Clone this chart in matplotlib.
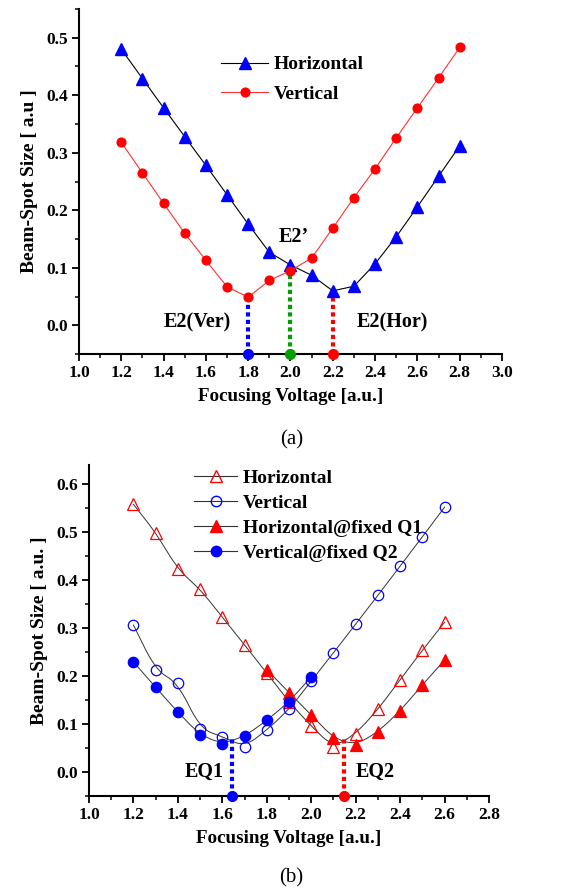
import numpy as np
import matplotlib
matplotlib.use("Agg")
import matplotlib.pyplot as plt
from matplotlib.ticker import MultipleLocator

# ---------------- data: panel (a) ----------------
volt_a = [1.2, 1.3, 1.4, 1.5, 1.6, 1.7, 1.8, 1.9, 2.0, 2.1, 2.2, 2.3, 2.4, 2.5, 2.6, 2.7, 2.8]
hor_a = [0.480, 0.429, 0.378, 0.328, 0.278, 0.227, 0.176, 0.127, 0.105, 0.087, 0.060, 0.068, 0.107, 0.154, 0.206, 0.259, 0.312]
ver_a = [0.318, 0.265, 0.212, 0.160, 0.113, 0.067, 0.049, 0.078, 0.095, 0.117, 0.169, 0.222, 0.272, 0.326, 0.378, 0.430, 0.483]
marks_a_x = [1.8, 2.0, 2.2]
marks_a_top = [0.049, 0.100, 0.060]
marks_a_col = ["#0000ff", "#00a000", "#ff0000"]

# ---------------- data: panel (b) ----------------
volt_b = [1.2, 1.3, 1.4, 1.5, 1.6, 1.7, 1.8, 1.9, 2.0, 2.1, 2.2, 2.3, 2.4, 2.5, 2.6]
hor_b = [0.558, 0.499, 0.422, 0.381, 0.322, 0.265, 0.205, 0.146, 0.095, 0.051, 0.079, 0.130, 0.192, 0.253, 0.312]
ver_b = [0.306, 0.212, 0.185, 0.090, 0.073, 0.052, 0.087, 0.130, 0.189, 0.248, 0.308, 0.368, 0.429, 0.490, 0.552]
volt_hq1 = [1.8, 1.9, 2.0, 2.1, 2.2, 2.3, 2.4, 2.5, 2.6]
hor_q1 = [0.213, 0.165, 0.119, 0.070, 0.056, 0.083, 0.127, 0.181, 0.233]
volt_vq2 = [1.2, 1.3, 1.4, 1.5, 1.6, 1.7, 1.8, 1.9, 2.0]
ver_q2 = [0.229, 0.176, 0.124, 0.077, 0.058, 0.074, 0.107, 0.146, 0.198]
marks_b_x = [1.645, 2.148]
marks_b_top = [0.068, 0.068]
marks_b_col = ["#0000ff", "#ff0000"]

plt.rcParams['font.family'] = ['Liberation Serif', 'DejaVu Serif']
plt.rcParams['font.weight'] = 'bold'
plt.rcParams['mathtext.default'] = 'regular'

def chaikin(x, y, n=4):
    pts = np.column_stack([x, y]).astype(float)
    for _ in range(n):
        q = 0.75 * pts[:-1] + 0.25 * pts[1:]
        r = 0.25 * pts[:-1] + 0.75 * pts[1:]
        new = np.empty((2 * len(q), 2))
        new[0::2] = q
        new[1::2] = r
        pts = np.vstack([pts[:1], new, pts[-1:]])
    return pts[:, 0], pts[:, 1]

def style_axes(ax, xlim, ylim, xmaj, ymaj):
    ax.set_xlim(*xlim)
    ax.set_ylim(*ylim)
    ax.spines['top'].set_visible(False)
    ax.spines['right'].set_visible(False)
    for s in ['left', 'bottom']:
        ax.spines[s].set_linewidth(1.5)
    ax.xaxis.set_major_locator(MultipleLocator(xmaj))
    ax.xaxis.set_minor_locator(MultipleLocator(xmaj / 2))
    ax.yaxis.set_major_locator(MultipleLocator(ymaj))
    ax.yaxis.set_minor_locator(MultipleLocator(ymaj / 2))
    ax.tick_params(which='major', direction='out', length=5, width=1.3, labelsize=12.5, pad=3)
    ax.tick_params(which='minor', direction='out', length=3, width=1.1)
    ax.xaxis.set_major_formatter(matplotlib.ticker.FormatStrFormatter('%.1f'))
    ax.yaxis.set_major_formatter(matplotlib.ticker.FormatStrFormatter('%.1f'))
    for lab in ax.get_xticklabels() + ax.get_yticklabels():
        lab.set_fontweight('bold')

fig = plt.figure(figsize=(5.79, 8.92), dpi=100)

# ---------------- panel (a) ----------------
ax1 = fig.add_axes([0.1364, 0.603, 0.7306, 0.387])
style_axes(ax1, (1.0, 3.0), (-0.05, 0.55), 0.2, 0.1)
ax1.plot(volt_a, hor_a, color='black', lw=0.8, marker='^', ms=8, mfc='#0000ff', mec='#0000ff',
         label='Horizontal', zorder=3)
ax1.plot(volt_a, ver_a, color='#ff3030', lw=0.8, marker='o', ms=6.3, mfc='#ff0000', mec='#ff0000',
         label='Vertical', zorder=3)
for x, t, c in zip(marks_a_x, marks_a_top, marks_a_col):
    ax1.plot([x, x], [-0.05, t], color=c, lw=3, ls=(0, (1, 0.8)), zorder=2)
    ax1.plot([x], [-0.05], marker='o', ms=7, color=c, clip_on=False, zorder=4)
ax1.text(1.56, 0.005, 'E2(Ver)', fontsize=14.5, fontweight='bold', ha='center', va='center')
ax1.text(2.48, 0.005, 'E2(Hor)', fontsize=14.5, fontweight='bold', ha='center', va='center')
ax1.text(2.015, 0.153, 'E2\u2019', fontsize=14.5, fontweight='bold', ha='center', va='center')
ax1.set_xlabel('Focusing Voltage [a.u.]', fontsize=13.7, fontweight='bold', labelpad=5)
ax1.set_ylabel('Beam-Spot Size [ a.u ]', fontsize=14, fontweight='bold', labelpad=6)
leg1 = ax1.legend(loc='upper left', bbox_to_anchor=(0.295, 0.915), frameon=False, fontsize=14,
                  handlelength=2.4, handletextpad=0.3, labelspacing=0.6)
for t in leg1.get_texts():
    t.set_fontweight('bold')
fig.text(0.503, 0.507, '(a)', fontsize=15, ha='center', va='center', fontweight='normal')

# ---------------- panel (b) ----------------
ax2 = fig.add_axes([0.1537, 0.108, 0.6909, 0.3707])
style_axes(ax2, (1.0, 2.8), (-0.05, 0.64), 0.2, 0.1)
series = [
    (volt_b, hor_b, '^', 'none', '#ff0000', 9, 'Horizontal'),
    (volt_b, ver_b, 'o', 'none', '#0000ff', 7.5, 'Vertical'),
    (volt_hq1, hor_q1, '^', '#ff0000', '#ff0000', 9, 'Horizontal@fixed Q1'),
    (volt_vq2, ver_q2, 'o', '#0000ff', '#0000ff', 7.5, 'Vertical@fixed Q2'),
]
for xs, ys, m, fc, ec, ms, lab in series:
    sx, sy = chaikin(xs, ys)
    ax2.plot(sx, sy, color='#333333', lw=0.7, zorder=2)
    ax2.plot(xs, ys, ls='none', marker=m, ms=ms, mfc=fc, mec=ec, mew=0.9, zorder=3)
    ax2.plot([], [], color='#333333', lw=0.8, marker=m, ms=ms, mfc=fc, mec=ec, label=lab)
for x, t, c in zip(marks_b_x, marks_b_top, marks_b_col):
    ax2.plot([x, x], [-0.05, t], color=c, lw=3, ls=(0, (1, 0.8)), zorder=2)
    ax2.plot([x], [-0.05], marker='o', ms=7, color=c, clip_on=False, zorder=4)
ax2.text(1.52, 0.0, 'EQ1', fontsize=14.5, fontweight='bold', ha='center', va='center')
ax2.text(2.29, 0.0, 'EQ2', fontsize=14.5, fontweight='bold', ha='center', va='center')
ax2.set_xlabel('Focusing Voltage [a.u.]', fontsize=13.7, fontweight='bold', labelpad=5)
ax2.set_ylabel('Beam-Spot Size [ a.u. ]', fontsize=14, fontweight='bold', labelpad=6)
leg2 = ax2.legend(loc='upper left', bbox_to_anchor=(0.22, 1.04), frameon=False, fontsize=14,
                  handlelength=2.2, handletextpad=0.3, labelspacing=0.38)
for t in leg2.get_texts():
    t.set_fontweight('bold')
fig.text(0.503, 0.016, '(b)', fontsize=15, ha='center', va='center', fontweight='normal')

fig.savefig('out.png', dpi=100)
